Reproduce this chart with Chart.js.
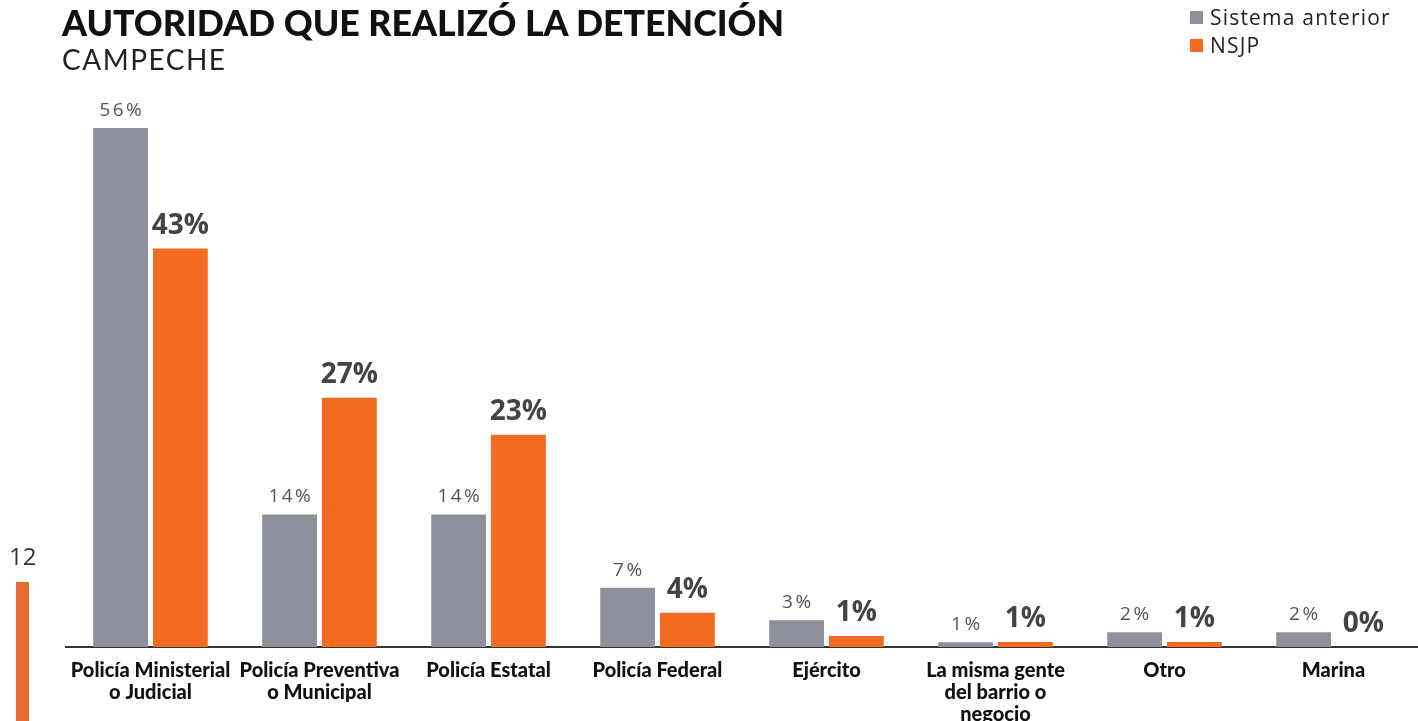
<!DOCTYPE html>
<html>
<head>
<meta charset="utf-8">
<script src="https://cdn.jsdelivr.net/npm/chart.js@4.4.1/dist/chart.umd.min.js"></script>
<style>
  html, body { margin: 0; padding: 0; background: #fff; }
  #wrap { position: relative; width: 1418px; height: 721px; overflow: hidden; }
  #c { position: absolute; left: 0; top: 0; }
  .title { position: absolute; left: 62px; top: 1px; font-family: Lato, sans-serif; font-weight: 900; font-size: 35.7px; color: #111; white-space: nowrap; }
  .subtitle { position: absolute; left: 62px; top: 42px; font-family: Lato, sans-serif; font-weight: 400; font-size: 28px; letter-spacing: 1.5px; color: #222; white-space: nowrap; }
  .legend { position: absolute; left: 1190px; top: 3px; font-family: "Open Sans", sans-serif; font-size: 21px; letter-spacing: 1.2px; color: #222; line-height: 28px; }
  .legend div { display: flex; align-items: center; white-space: nowrap; }
  .legend span.sw { display: inline-block; width: 13px; height: 13px; margin-right: 7px; }
  .side { position: absolute; left: 9px; top: 539px; font-family: "Open Sans", sans-serif; font-size: 24px; color: #333; }
  .sidebar { position: absolute; left: 16px; top: 582px; width: 13px; height: 139px; background: #e56b2f; }
</style>
</head>
<body>
<div id="wrap">
  <canvas id="c" width="1418" height="721"></canvas>
  <div class="title">AUTORIDAD QUE REALIZÓ LA DETENCIÓN</div>
  <div class="subtitle">CAMPECHE</div>
  <div class="legend">
    <div><span class="sw" style="background:#8e919c"></span>Sistema anterior</div>
    <div><span class="sw" style="background:#f26b21"></span>NSJP</div>
  </div>
  <div class="side">12</div>
  <div class="sidebar"></div>
</div>
<script>
const categories = [
  ["Policía Ministerial", "o Judicial"],
  ["Policía Preventiva", "o Municipal"],
  ["Policía Estatal"],
  ["Policía Federal"],
  ["Ejército"],
  ["La misma gente", "del barrio o", "negocio"],
  ["Otro"],
  ["Marina"]
];
const seriesNames = ["Sistema anterior", "NSJP"];
// bar heights (%)
const sistemaAnterior = [56, 14.3, 14.3, 6.4, 2.9, 0.5, 1.6, 1.6];
const nsjp = [43, 26.9, 22.9, 3.7, 1.2, 0.55, 0.55, 0];
// printed labels
const sistemaAnteriorLabels = ["56%", "14%", "14%", "7%", "3%", "1%", "2%", "2%"];
const nsjpLabels = ["43%", "27%", "23%", "4%", "1%", "1%", "1%", "0%"];

const colors = ["#8e919c", "#f26b21"];

const labelPlugin = {
  id: "barLabels",
  afterDatasetsDraw(chart) {
    const ctx = chart.ctx;
    chart.data.datasets.forEach((ds, di) => {
      const meta = chart.getDatasetMeta(di);
      meta.data.forEach((bar, i) => {
        ctx.save();
        ctx.textAlign = "center";
        ctx.textBaseline = "alphabetic";
        if (di === 0) {
          ctx.font = "400 19px 'Open Sans', sans-serif";
          ctx.fillStyle = "#555";
          let sp = 0;
          if ("letterSpacing" in ctx) { sp = 2.5; ctx.letterSpacing = sp + "px"; }
          ctx.fillText(sistemaAnteriorLabels[i], bar.x + sp / 2, bar.y - 12);
        } else {
          ctx.font = "700 28px 'Open Sans', sans-serif";
          ctx.fillStyle = "#444";
          ctx.fillText(nsjpLabels[i], bar.x, bar.y - 15);
        }
        ctx.restore();
      });
    });
  }
};

new Chart(document.getElementById("c"), {
  type: "bar",
  data: {
    labels: categories,
    datasets: [
      { label: seriesNames[0], data: sistemaAnterior, backgroundColor: colors[0] },
      { label: seriesNames[1], data: nsjp, backgroundColor: colors[1] }
    ]
  },
  options: {
    responsive: false,
    animation: false,
    devicePixelRatio: 1,
    layout: { padding: { left: 66, right: 0, top: 91, bottom: 0 } },
    datasets: { bar: { categoryPercentage: 0.7075, barPercentage: 0.9167 } },
    plugins: { legend: { display: false }, tooltip: { enabled: false }, title: { display: false } },
    scales: {
      y: { display: false, min: 0, max: 60 },
      x: {
        grid: { display: false, drawTicks: false },
        border: { display: true, color: "#333", width: 2 },
        ticks: {
          color: "#111",
          font: { family: "Lato, sans-serif", weight: "900", size: 20, lineHeight: 1.1 },
          padding: 13,
          maxRotation: 0,
          autoSkip: false
        },
        afterFit(scale) { scale.height = 74; }
      }
    }
  },
  plugins: [labelPlugin]
});
</script>
</body>
</html>
